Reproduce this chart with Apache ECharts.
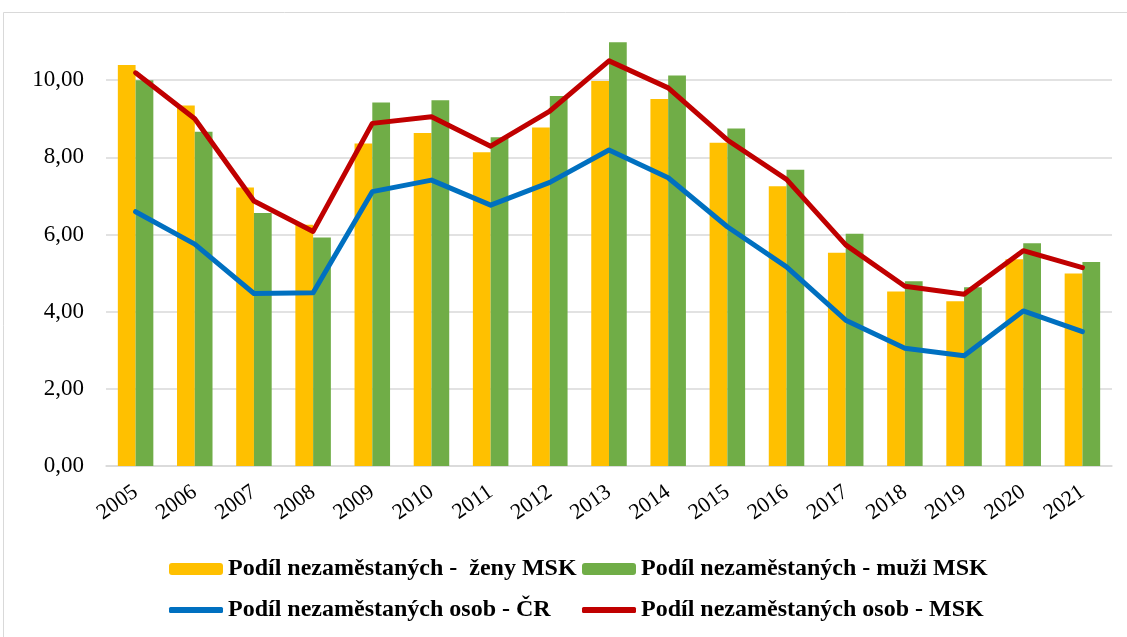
<!DOCTYPE html>
<html>
<head>
<meta charset="utf-8">
<script src="https://cdn.jsdelivr.net/npm/echarts@6/dist/echarts.min.js"></script>
<style>
html,body{margin:0;padding:0;background:#fff;}
#chart{width:1127px;height:637px;}
</style>
</head>
<body>
<div id="chart"></div>
<script>
const years = ['2005','2006','2007','2008','2009','2010','2011','2012','2013','2014','2015','2016','2017','2018','2019','2020','2021'];
const zenyMSK = [10.39, 9.34, 7.22, 6.25, 8.36, 8.63, 8.13, 8.77, 9.98, 9.51, 8.38, 7.25, 5.53, 4.52, 4.27, 5.36, 4.99];
const muziMSK = [10.00, 8.66, 6.56, 5.92, 9.42, 9.48, 8.52, 9.59, 10.98, 10.12, 8.75, 7.68, 6.02, 4.79, 4.63, 5.77, 5.29];
const osobCR  = [6.59, 5.75, 4.47, 4.49, 7.11, 7.41, 6.76, 7.35, 8.19, 7.47, 6.20, 5.16, 3.78, 3.05, 2.86, 4.02, 3.48];
const osobMSK = [10.19, 9.00, 6.87, 6.08, 8.88, 9.05, 8.29, 9.20, 10.50, 9.80, 8.45, 7.43, 5.73, 4.66, 4.45, 5.58, 5.14];
const seriesNames = [
  'Podíl nezaměstaných -  ženy MSK',
  'Podíl nezaměstaných - muži MSK',
  'Podíl nezaměstaných osob - ČR',
  'Podíl nezaměstaných osob - MSK'
];

const chart = echarts.init(document.getElementById('chart'), null, {renderer: 'canvas'});
const serif = '"Liberation Serif", "Times New Roman", serif';
const legendBase = {
  orient: 'horizontal',
  itemGap: 0,
  itemWidth: 54,
  padding: 0,
  textStyle: {fontFamily: serif, fontSize: 24, fontWeight: 'bold', color: '#000'},
  selectedMode: false
};
const option = {
  backgroundColor: '#fff',
  animation: false,
  graphic: [{
    type: 'rect',
    shape: {x: 3.5, y: 12.5, width: 1130, height: 640},
    style: {fill: 'none', stroke: '#d9d9d9', lineWidth: 1},
    silent: true, z: -10
  }],
  grid: {left: 106, right: 15, top: 30, bottom: 171, containLabel: false},
  legend: [
    Object.assign({}, legendBase, {data: [seriesNames[0]], left: 169, top: 557, itemHeight: 12}),
    Object.assign({}, legendBase, {data: [seriesNames[1]], left: 582, top: 557, itemHeight: 12}),
    Object.assign({}, legendBase, {data: [{name: seriesNames[2], icon: 'roundRect'}], left: 169, top: 598, itemHeight: 6}),
    Object.assign({}, legendBase, {data: [{name: seriesNames[3], icon: 'roundRect'}], left: 582, top: 598, itemHeight: 6})
  ],
  xAxis: {
    type: 'category',
    data: years,
    axisLine: {show: true, lineStyle: {color: '#d9d9d9', width: 1.5}},
    axisTick: {show: false},
    axisLabel: {rotate: 35, margin: 24, fontFamily: serif, fontSize: 22, color: '#000', interval: 0}
  },
  yAxis: {
    type: 'value',
    min: 0,
    max: 11.3,
    interval: 2,
    axisLine: {show: false},
    axisTick: {show: false},
    splitLine: {show: true, showMaxLine: false, lineStyle: {color: '#d9d9d9', width: 1.5}},
    axisLabel: {
      margin: 22, fontFamily: serif, fontSize: 23, color: '#000', showMaxLabel: false,
      formatter: function (v) { return (Math.abs(v % 2) < 1e-9) ? v.toFixed(2).replace('.', ',') : ''; }
    }
  },
  series: [
    {name: seriesNames[0], type: 'bar', data: zenyMSK, barGap: '0%', barCategoryGap: '40%', itemStyle: {color: '#FFC000'}},
    {name: seriesNames[1], type: 'bar', data: muziMSK, barGap: '0%', barCategoryGap: '40%', itemStyle: {color: '#70AD47'}},
    {name: seriesNames[2], type: 'line', data: osobCR, symbol: 'none', lineStyle: {color: '#0070C0', width: 5, cap: 'round', join: 'round'}, itemStyle: {color: '#0070C0'}, z: 3},
    {name: seriesNames[3], type: 'line', data: osobMSK, symbol: 'none', lineStyle: {color: '#C00000', width: 5, cap: 'round', join: 'round'}, itemStyle: {color: '#C00000'}, z: 4}
  ]
};
chart.setOption(option);
</script>
</body>
</html>
